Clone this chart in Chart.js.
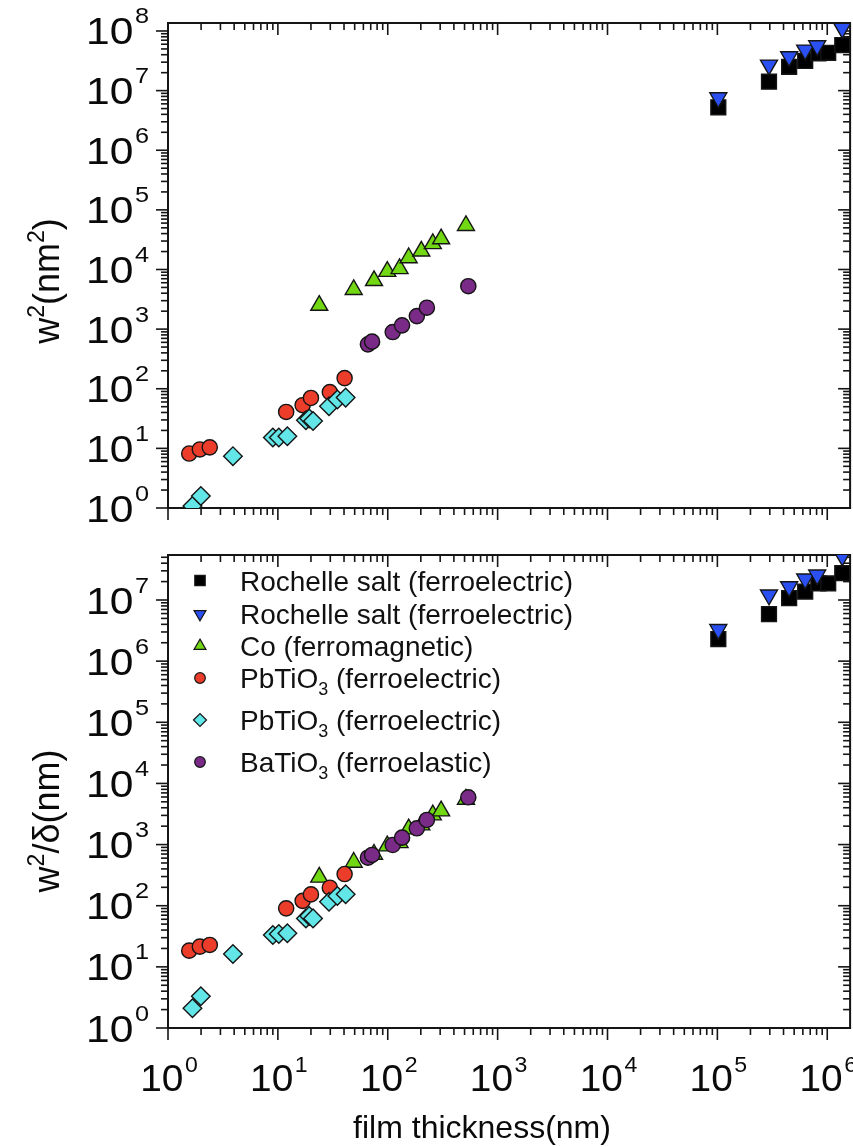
<!DOCTYPE html>
<html><head><meta charset="utf-8">
<script src="https://cdn.jsdelivr.net/npm/chart.js@4.4.0/dist/chart.umd.min.js"></script>
<style>
html,body{margin:0;padding:0;background:#fff;overflow:hidden;width:853px;height:1147px;}
#wrap{position:relative;width:853px;height:1147px;overflow:hidden;background:#fff;}
canvas{position:absolute;left:0;}
</style></head><body>
<div id="wrap">
<canvas id="c1" width="862" height="540" style="top:0px"></canvas>
<canvas id="c2" width="862" height="607" style="top:540px"></canvas>
</div>
<script>
// ---------------- data (film thickness in nm) ----------------
const seriesNames = ['Rochelle salt (ferroelectric)', 'Rochelle salt (ferroelectric)', 'Co (ferromagnetic)',
  'PbTiO3 (ferroelectric)', 'PbTiO3 (ferroelectric)', 'BaTiO3 (ferroelastic)'];

const rochelleSqX   = [1.02e5, 2.95e5, 4.5e5, 6.3e5, 8.3e5, 1.02e6, 1.37e6];
const rochelleSqW2  = [5.25e6, 1.41e7, 2.5e7, 3.14e7, 4.2e7, 4.3e7, 5.8e7];
const rochelleSqWD  = [2.3e6, 5.9e6, 1.07e7, 1.37e7, 1.87e7, 1.87e7, 2.74e7];

const rochelleTriX  = [1.02e5, 2.95e5, 4.5e5, 6.3e5, 8.1e5, 1.37e6];
const rochelleTriW2 = [7.6e6, 2.69e7, 3.71e7, 4.8e7, 5.67e7, 1.11e8];
const rochelleTriWD = [3.3e6, 1.21e7, 1.65e7, 2.21e7, 2.57e7, 5.25e7];

const coX  = [23.8, 49, 75, 99, 128, 155, 202, 257, 306, 515];
const coW2 = [2500, 4600, 6500, 9250, 10300, 15700, 20300, 27000, 32600, 54500];
const coWD = [292, 513, 693, 948, 1074, 1798, 2090, 3050, 3540, 5500];

const pbCircX  = [1.56, 1.95, 2.4, 11.9, 16.8, 20, 29.7, 40.5];
const pbCircW2 = [8.2, 9.6, 10.4, 40.8, 53, 70, 88, 151];
const pbCircWD = [18.4, 21.4, 22.8, 90.6, 120, 153, 197, 330];

const pbDiaX  = [1.67, 1.99, 3.9, 9.0, 10.2, 12.2, 18, 19.3, 20.9, 29.2, 34.8, 41.4];
const pbDiaW2 = [1.08, 1.59, 7.4, 15.2, 15.2, 16, 29.7, 31.6, 28.8, 51, 66, 71];
const pbDiaWD = [2.1, 3.3, 16.2, 33.2, 34.5, 35.4, 62, 68, 62, 116, 144, 154];

const baX  = [66, 72, 111, 135, 184, 227, 541];
const baW2 = [555, 617, 893, 1156, 1652, 2285, 5250];
const baWD = [610, 676, 984, 1297, 1845, 2524, 5930];

const xTickExponents = [0, 1, 2, 3, 4, 5, 6];
const topYTickExponents = [0, 1, 2, 3, 4, 5, 6, 7, 8];
const botYTickExponents = [0, 1, 2, 3, 4, 5, 6, 7];

// axis ranges
const X_MIN = 1, X_MAX = Math.pow(10, 6.208);
const TOP_Y_MIN = 1, TOP_Y_MAX = Math.pow(10, 8.134);
const BOT_Y_MIN = 1, BOT_Y_MAX = Math.pow(10, 7.736);

// ---------------- styles ----------------
const FONT = '"Liberation Sans", Arial, Helvetica, sans-serif';
const EDGE = '#151515';
const styles = [
  {pointStyle: 'rect', radius: 10.5, rotation: 0, bg: '#000000'},
  {pointStyle: 'triangle', radius: 9.8, rotation: 180, bg: '#2b50f2'},
  {pointStyle: 'triangle', radius: 9.8, rotation: 0, bg: '#72d814'},
  {pointStyle: 'circle', radius: 7.6, rotation: 0, bg: '#ec3d2b'},
  {pointStyle: 'rectRot', radius: 9.3, rotation: 0, bg: '#62e6e8'},
  {pointStyle: 'circle', radius: 7.6, rotation: 0, bg: '#7a2a87'}
];

function pts(xs, ys) { return xs.map((x, i) => ({x: x, y: ys[i]})); }

function makeDatasets(lists) {
  return lists.map((d, i) => ({
    label: seriesNames[i],
    data: d,
    pointStyle: styles[i].pointStyle,
    pointRadius: styles[i].radius,
    pointRotation: styles[i].rotation,
    pointBackgroundColor: styles[i].bg,
    pointBorderColor: EDGE,
    pointBorderWidth: 1.4,
    showLine: false,
    clip: 0,
    order: 6 - i
  }));
}

function line(ctx, x1, y1, x2, y2) { ctx.beginPath(); ctx.moveTo(x1, y1); ctx.lineTo(x2, y2); ctx.stroke(); }

// "10" with superscript exponent; hs = horizontal stretch factor
function drawPow(ctx, e, x, baseY, align, baseSize, supSize, supRise, hs) {
  const bf = baseSize + 'px ' + FONT, sf = supSize + 'px ' + FONT;
  ctx.font = bf; const wb = ctx.measureText('10').width * hs;
  ctx.font = sf; const ws = ctx.measureText(String(e)).width * hs;
  const gap = 1.5;
  let left = align === 'right' ? x - wb - gap - ws : x - (wb + gap + ws) / 2;
  ctx.textAlign = 'left'; ctx.textBaseline = 'alphabetic';
  ctx.save(); ctx.translate(left, baseY); ctx.scale(hs, 1);
  ctx.font = bf; ctx.fillText('10', 0, 0);
  ctx.restore();
  ctx.save(); ctx.translate(left + wb + gap, baseY - supRise); ctx.scale(hs, 1);
  ctx.font = sf; ctx.fillText(String(e), 0, 0);
  ctx.restore();
}

// rich text: array of [text, type] where type = 'n' normal, 'sup', 'sub'
function richWidth(ctx, parts, size) {
  let w = 0;
  parts.forEach(p => {
    const s = p[1] === 'n' ? size : size * 0.64;
    ctx.font = s + 'px ' + FONT; w += ctx.measureText(p[0]).width;
  });
  return w;
}
function drawRich(ctx, parts, x, y, size) {
  ctx.textAlign = 'left'; ctx.textBaseline = 'alphabetic';
  let cx = x;
  parts.forEach(p => {
    const s = p[1] === 'n' ? size : size * 0.64;
    ctx.font = s + 'px ' + FONT;
    let dy = 0;
    if (p[1] === 'sup') dy = -size * 0.42;
    if (p[1] === 'sub') dy = size * 0.25;
    ctx.fillText(p[0], cx, y + dy);
    cx += ctx.measureText(p[0]).width;
  });
}

function framePlugin(cfg) {
  return {
    id: 'frame_' + cfg.name,
    beforeDatasetsDraw(chart) {
      const ctx = chart.ctx, a = chart.chartArea, xs = chart.scales.x, ys = chart.scales.y;
      ctx.save();
      ctx.strokeStyle = EDGE; ctx.fillStyle = '#000';
      ctx.lineWidth = 2;
      ctx.strokeRect(a.left, a.top, a.right - a.left, a.bottom - a.top);
      ctx.lineWidth = 1.6;
      const MAJ = 12, MIN = 7;
      for (let e = 0; e <= 7; e++) for (let m = 1; m <= 9; m++) {
        const v = m * Math.pow(10, e);
        if (v < xs.min * 0.999 || v > xs.max) continue;
        const px = xs.getPixelForValue(v);
        const len = m === 1 ? MAJ : MIN;
        line(ctx, px, a.bottom, px, a.bottom + len);
        line(ctx, px, a.top, px, a.top + len);
      }
      for (let e = 0; e <= 8; e++) for (let m = 1; m <= 9; m++) {
        const v = m * Math.pow(10, e);
        if (v < ys.min * 0.999 || v > ys.max) continue;
        const py = ys.getPixelForValue(v);
        const len = m === 1 ? MAJ : MIN;
        line(ctx, a.left - len, py, a.left, py);
        line(ctx, a.right - len, py, a.right, py);
      }
      ctx.fillStyle = '#0a0a0a';
      // y tick labels
      cfg.yExps.forEach(e => {
        const py = ys.getPixelForValue(Math.pow(10, e));
        drawPow(ctx, e, 149, py + 13.5, 'right', 37, 22, 21, 1.15);
      });
      if (cfg.xLabels) {
        xTickExponents.forEach(e => {
          const px = xs.getPixelForValue(Math.pow(10, e));
          drawPow(ctx, e, px + 1, a.bottom + 63, 'center', 37, 22, 19, 1.05);
        });
        ctx.font = '32px ' + FONT; ctx.textAlign = 'center'; ctx.textBaseline = 'alphabetic';
        ctx.fillText('film thickness(nm)', 482, a.bottom + 110);
      }
      // y title (rotated)
      ctx.save();
      ctx.translate(59, cfg.titleY);
      ctx.rotate(-Math.PI / 2);
      const w = richWidth(ctx, cfg.title, 36);
      drawRich(ctx, cfg.title, -w / 2, 0, 36);
      ctx.restore();
      ctx.restore();
    },
    afterDraw(chart) {
      if (!cfg.legend) return;
      const ctx = chart.ctx;
      ctx.save();
      const rows = [
        {y: 40.5, parts: [['Rochelle salt (ferroelectric)', 'n']]},
        {y: 74, parts: [['Rochelle salt (ferroelectric)', 'n']]},
        {y: 106, parts: [['Co (ferromagnetic)', 'n']]},
        {y: 138, parts: [['PbTiO', 'n'], ['3', 'sub'], [' (ferroelectric)', 'n']]},
        {y: 180, parts: [['PbTiO', 'n'], ['3', 'sub'], [' (ferroelectric)', 'n']]},
        {y: 222, parts: [['BaTiO', 'n'], ['3', 'sub'], [' (ferroelastic)', 'n']]}
      ];
      const top = chart.chartArea.top - 15; // canvas coordinate of page y=540
      rows.forEach((r, i) => {
        const cy = top + r.y;
        const st = styles[i];
        ctx.fillStyle = st.bg; ctx.strokeStyle = EDGE; ctx.lineWidth = 1.2;
        Chart.helpers.drawPoint(ctx, {pointStyle: st.pointStyle, radius: st.radius * 0.7, rotation: st.rotation, borderWidth: 1.2}, 200, cy);
        ctx.fillStyle = '#111';
        drawRich(ctx, r.parts, 240, cy + 10, 28);
      });
      ctx.restore();
    }
  };
}

function makeChart(id, datasets, yMin, yMax, padding, cfg) {
  return new Chart(document.getElementById(id), {
    type: 'scatter',
    data: {datasets: datasets},
    options: {
      responsive: false, animation: false, devicePixelRatio: 1,
      layout: {padding: padding},
      plugins: {legend: {display: false}, tooltip: {enabled: false}},
      scales: {
        x: {type: 'logarithmic', min: X_MIN, max: X_MAX, display: false},
        y: {type: 'logarithmic', min: yMin, max: yMax, display: false}
      }
    },
    plugins: [framePlugin(cfg)]
  });
}

makeChart('c1', makeDatasets([
  pts(rochelleSqX, rochelleSqW2), pts(rochelleTriX, rochelleTriW2), pts(coX, coW2),
  pts(pbCircX, pbCircW2), pts(pbDiaX, pbDiaW2), pts(baX, baW2)
]), TOP_Y_MIN, TOP_Y_MAX, {left: 168, right: 6, top: 23, bottom: 32},
  {name: 'top', yExps: topYTickExponents, xLabels: false, legend: false, titleY: 281,
   title: [['w', 'n'], ['2', 'sup'], ['(nm', 'n'], ['2', 'sup'], [')', 'n']]});

makeChart('c2', makeDatasets([
  pts(rochelleSqX, rochelleSqWD), pts(rochelleTriX, rochelleTriWD), pts(coX, coWD),
  pts(pbCircX, pbCircWD), pts(pbDiaX, pbDiaWD), pts(baX, baWD)
]), BOT_Y_MIN, BOT_Y_MAX, {left: 168, right: 6, top: 15, bottom: 119},
  {name: 'bot', yExps: botYTickExponents, xLabels: true, legend: true, titleY: 821 - 540,
   title: [['w', 'n'], ['2', 'sup'], ['/\u03b4(nm)', 'n']]});
</script>
</body></html>
